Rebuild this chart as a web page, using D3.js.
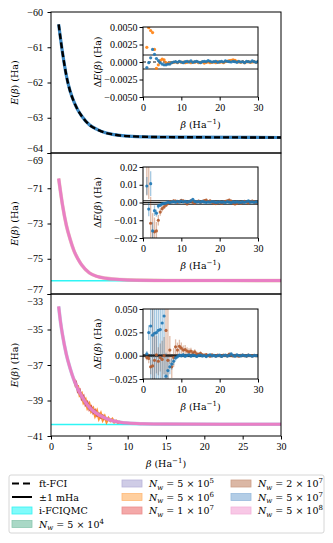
<!DOCTYPE html>
<html>
<head>
<meta charset="utf-8">
<script src="https://cdn.jsdelivr.net/npm/d3@7"></script>
<style>
body { margin: 0; background: #fff; }
svg text { font-family: "Liberation Serif", "DejaVu Serif", serif; fill: #000; }
svg text.lbl { font-family: "DejaVu Serif", "Liberation Serif", serif; }
</style>
</head>
<body>
<div id="chart"></div>
<script>
// ---- main panel curves (beta in Ha^-1, energies in Ha)
const betaCurve = [1, 1.5, 2, 2.5, 3, 3.5, 4, 5, 6, 7, 8, 10, 15, 30];
const energyTop = [-60.35, -61.15, -61.8, -62.25, -62.55, -62.78, -62.95, -63.2, -63.33, -63.42, -63.47, -63.52, -63.55, -63.56];
const energyMid = [-70.45, -71.95, -73.1, -73.9, -74.55, -75.0, -75.35, -75.8, -76.0, -76.1, -76.15, -76.2, -76.23, -76.24];
const betaCurveLow = [1, 1.25, 1.5, 2, 2.5, 3, 3.5, 4, 4.5, 5, 6, 7, 8, 9, 10, 12, 15, 30];
const energyLow = [-33.7, -34.6, -35.3, -36.4, -37.2, -37.85, -38.35, -38.75, -39.1, -39.38, -39.75, -39.98, -40.14, -40.22, -40.27, -40.31, -40.33, -40.34];
const iFciqmc = [null, -76.25, -40.35];

// noisy low-walker runs in the bottom panel
const betaNoisyOrange = [3, 3.25, 3.5, 3.75, 4, 4.25, 4.5, 4.75, 5, 5.25, 5.5, 5.75, 6, 6.25, 6.5, 6.75, 7, 7.25, 7.5, 7.75, 8, 8.25, 8.5, 8.75, 9];
const energyNoisyOrange = [-37.8, -38.2, -38.2, -38.7, -38.6, -39.1, -38.95, -39.4, -39.2, -39.6, -39.45, -39.85, -39.6, -40.0, -39.75, -40.1, -39.9, -40.2, -40.0, -40.15, -40.05, -40.22, -40.15, -40.25, -40.2];
const betaNoisyRed = [3, 3.25, 3.5, 3.75, 4, 4.25, 4.5, 4.75, 5, 5.25, 5.5, 5.75, 6, 6.25, 6.5, 6.75, 7];
const energyNoisyRed = [-38.0, -37.95, -38.5, -38.4, -38.9, -38.75, -39.25, -39.1, -39.5, -39.35, -39.7, -39.55, -39.85, -39.75, -39.95, -39.85, -40.05];

// ---- inset deviations (mHa), beta = 1, 1.5, ..., 30
const betaInset = d3.range(1, 30.01, 0.5);

const dev1Blue = [
  -0.8, -0.1, 0.6, 1.8, 1.1, 0.5, 0.2, -0.1, -0.3, -0.4,
  -0.4, -0.3, -0.3, -0.1, 0.0, 0.05, -0.05, 0.1, 0.0, -0.1,
  0.05, 0.1, 0.0, 0.15, -0.05, 0.05, 0.1, 0.0, -0.1, 0.05,
  0.1, 0.05, 0.2, 0.1, 0.0, 0.05, 0.1, -0.05, 0.05, 0.1,
  0.0, 0.15, 0.1, 0.05, 0.0, 0.1, 0.05, -0.05, 0.1, 0.0,
  0.05, -0.1, 0.1, 0.05, 0.0, 0.15, 0.05, -0.05, 0.1];
const dev1Orange = [
  2.1, 4.9, 4.5, 4.2, 1.8, -0.9, -0.4, 0.2, 0.4, 0.3,
  -0.1, -0.2, -0.15, -0.1, -0.05, 0.0, -0.1, 0.05, -0.05, 0.0,
  -0.1, -0.05, 0.05, -0.1, 0.0, -0.05, 0.05, -0.1, -0.05, 0.0,
  -0.15, -0.05, 0.0, -0.1, -0.05, 0.0, -0.1, 0.05, -0.05, 0.0,
  -0.1, 0.05, 0.1, 0.2, 0.25, 0.3, 0.25, 0.1, 0.0, -0.05,
  0.05, -0.1, 0.0, 0.05, -0.05, 0.0, 0.05, -0.05, 0.0];

const dev2Blue = [
  9.3, -3.7, 10.6, -16, -4.6, -6.0, -2.0, -1.5, -0.8, -0.5,
  -0.3, 0.2, 0.0, 0.3, 0.5, 0.2, 0.6, 0.3, 0.8, 0.4,
  0.6, 0.2, 0.5, 0.9, 1.8, 0.6, 0.3, 0.5, 0.2, 0.6,
  0.3, 0.1, 0.4, 0.2, 0.5, 0.3, 0.0, 0.2, 0.4, 0.1,
  0.3, 0.0, 0.5, 0.2, -0.1, 0.3, 0.1, 0.4, 0.2, 0.0,
  0.3, 0.1, 0.5, 0.9, 0.2, 0.4, 0.1, 0.3, 0.2];
const err2Blue = [
  5, 4, 7, 5, 3, 2, 1.5, 1, 0.8, 0.7,
  0.6, 0.6, 0.6, 0.5, 0.5, 0.5, 0.5, 0.5, 0.5, 0.5,
  0.5, 0.5, 0.4, 0.4, 0.4, 0.4, 0.4, 0.4, 0.4, 0.4,
  0.4, 0.4, 0.4, 0.4, 0.4, 0.4, 0.4, 0.4, 0.4, 0.4,
  0.4, 0.4, 0.4, 0.4, 0.4, 0.4, 0.4, 0.4, 0.4, 0.4,
  0.4, 0.4, 0.4, 0.4, 0.4, 0.4, 0.4, 0.4, 0.4];
const dev2Brown = [
  24, 22, -11.7, -21, -16.5, -16, -10, -5.4, -3.5, -2.5,
  -1.5, -0.5, 0.2, 0.5, 1.0, 0.8, 0.2, 0.6, 1.2, 0.9,
  0.3, -0.8, 0.4, 0.9, 0.2, -0.3, 0.5, 0.8, 0.1, 0.6,
  1.1, 1.3, 0.5, 0.9, 0.2, -0.4, -0.6, -0.2, 0.3, -0.5,
  0.2, 0.6, 1.0, 1.3, 0.8, -0.3, -0.8, -0.5, 0.2, -0.4,
  0.1, 0.6, 0.3, -0.2, 0.5, 0.8, 0.3, -0.1, 0.4];
const err2Brown = [
  20, 20, 15, 15, 8, 5, 3, 2, 1.5, 1.2,
  1.0, 1.0, 1.0, 0.9, 0.9, 0.9, 0.9, 0.8, 0.8, 0.8,
  0.8, 0.8, 0.8, 0.8, 0.8, 0.8, 0.8, 0.8, 0.8, 0.8,
  0.8, 0.8, 0.8, 0.8, 0.8, 0.8, 0.8, 0.8, 0.8, 0.8,
  0.8, 0.8, 0.8, 0.8, 0.8, 0.8, 0.8, 0.8, 0.8, 0.8,
  0.8, 0.8, 0.8, 0.8, 0.8, 0.8, 0.8, 0.8, 0.8];

const dev3Blue = [
  2.0, 24.7, 31.8, 22, 24, 24.7, 27, 28, 35, 42.5,
  -22, -16, -12, -9, -6, -2.5, -1.0, 0.5, 0.0, 0.8,
  -0.5, 0.3, 1.0, -0.4, 0.5, 0.2, -0.8, 0.3, 0.6, -0.3,
  0.2, -1.0, 0.4, 0.8, -0.2, 0.3, -0.6, 0.1, 0.5, -0.8,
  0.2, 0.6, -0.4, 0.3, 2.0, 0.4, -0.5, 0.9, 0.2, -0.3,
  0.6, 0.1, -0.4, 0.5, 0.2, -0.6, 0.3, 0.1, -0.2];
const err3Blue = [
  3, 8, 70, 70, 70, 70, 70, 70, 70, 70,
  25, 15, 8, 6, 4, 3, 2.5, 2, 2, 2,
  1.8, 1.8, 1.7, 1.7, 1.6, 1.6, 1.5, 1.5, 1.5, 1.5,
  1.5, 1.4, 1.4, 1.4, 1.4, 1.3, 1.3, 1.3, 1.3, 1.3,
  1.2, 1.2, 1.2, 1.2, 1.2, 1.2, 1.2, 1.2, 1.2, 1.2,
  1.2, 1.2, 1.2, 1.2, 1.2, 1.2, 1.2, 1.2, 1.2];
const dev3Brown = [
  -2, -3, -12, -11, -5, 1, -6, -2, -4, 0,
  27, -5, 6, -12, -2, 9.5, 6, 10, 8, 6,
  6.5, 5, 4, 5, 3, 4, 2, 1.5, 2.5, 1,
  0.5, 1.2, 0.3, -0.5, 0.8, 0.2, -0.3, 0.6, 0.1, -0.4,
  0.5, 0.2, -0.2, 1.8, 0.6, -0.3, 0.4, 0.0, -0.5, 0.3,
  0.7, 0.1, -0.4, 0.5, 0.2, -0.3, 0.4, 0.0, 0.3];
const err3Brown = [
  3, 5, 8, 70, 30, 20, 15, 15, 20, 20,
  70, 70, 15, 12, 10, 8, 8, 7, 6, 5,
  5, 4, 4, 3.5, 3, 3, 2.5, 2, 2, 1.8,
  1.6, 1.5, 1.5, 1.4, 1.4, 1.3, 1.3, 1.2, 1.2, 1.2,
  1.1, 1.1, 1.1, 1.1, 1.1, 1.1, 1.1, 1.1, 1.1, 1.1,
  1.1, 1.1, 1.1, 1.1, 1.1, 1.1, 1.1, 1.1, 1.1];

// ---- ticks
const mainYTicks = [[-64, -63, -62, -61, -60], [-77, -75, -73, -71, -69], [-41, -39, -37, -35, -33]];
const mainXTicks = [0, 5, 10, 15, 20, 25, 30];
const insetYTicks = [[-0.005, -0.0025, 0, 0.0025, 0.005], [-0.02, -0.01, 0, 0.01, 0.02], [-0.025, 0, 0.025, 0.05]];
const insetYFormats = [".4f", ".2f", ".3f"];
const insetXTicks = [0, 10, 20, 30];

// ---- legend
const walkerMantissa = ["5", "5", "5", "1", "2", "5", "5"];
const walkerExponent = ["4", "5", "6", "7", "7", "7", "8"];
const walkerFill = ["#a9d8c6", "#cfcce6", "#ffcf9f", "#f4a9a9", "#dbb7a5", "#b3cde6", "#f8c8e6"];
const walkerEdge = ["#8cc8b0", "#b9b5da", "#ffb877", "#ec8d8d", "#cc9f88", "#98bbdc", "#f3b2da"];

const width = 333, height = 543;
const svg = d3.select("#chart").append("svg")
  .attr("width", width).attr("height", height);

const x = d3.scaleLinear().domain([0, 30]).range([51, 281]);
const panels = [
  { top: 12, bottom: 153, domain: [-64, -60] },
  { top: 153, bottom: 294, domain: [-77, -69] },
  { top: 294, bottom: 436, domain: [-41, -33] }
];
const insetBoxes = [
  { top: 27, bottom: 97, domain: [-0.005, 0.005] },
  { top: 167, bottom: 238, domain: [-0.02, 0.02] },
  { top: 309, bottom: 379, domain: [-0.025, 0.05] }
];
const xi = d3.scaleLinear().domain([0, 30]).range([143, 258]);

const blue = "#1f77b4", orange = "#ff7f0e", brown = "#b25a2c", pink = "#e97fc4", cyan = "#2ff5f5";

function richText(t, parts) {
  let shift = 0;
  parts.forEach(p => {
    const ts = t.append("tspan").text(p.t);
    if (p.i) ts.attr("font-style", "italic");
    const target = p.sup ? -4 : p.sub ? 2.5 : 0;
    if (target !== shift) { ts.attr("dy", target - shift); shift = target; }
    if (p.sup || p.sub) ts.attr("font-size", "7px");
  });
}
const eLabel = [{ t: "E", i: true }, { t: "(" }, { t: "β", i: true }, { t: ") (Ha)" }];
const dLabel = [{ t: "Δ" }, { t: "E", i: true }, { t: "(" }, { t: "β", i: true }, { t: ") (Ha)" }];
const bLabel = [{ t: "β", i: true }, { t: " (Ha" }, { t: "−1", sup: true }, { t: ")" }];

const line = d3.line().curve(d3.curveMonotoneX);

panels.forEach((p, k) => {
  const y = d3.scaleLinear().domain(p.domain).range([p.bottom, p.top]);
  const g = svg.append("g");

  g.append("clipPath").attr("id", "clip" + k)
    .append("rect").attr("x", x(0)).attr("y", p.top).attr("width", x(30) - x(0)).attr("height", p.bottom - p.top);
  const plot = g.append("g").attr("clip-path", "url(#clip" + k + ")");

  if (iFciqmc[k] !== null) {
    plot.append("line")
      .attr("x1", x(0)).attr("x2", x(30))
      .attr("y1", y(iFciqmc[k])).attr("y2", y(iFciqmc[k]))
      .attr("stroke", cyan).attr("stroke-width", 1.6);
  }

  if (k === 0) {
    const pts = betaCurve.map((b, i) => [x(b), y(energyTop[i])]);
    plot.append("path").attr("d", line(pts))
      .attr("fill", "none").attr("stroke", "#3b87c2").attr("stroke-width", 3.2);
    plot.append("path").attr("d", line(pts))
      .attr("fill", "none").attr("stroke", "#000").attr("stroke-width", 2.4)
      .attr("stroke-dasharray", "6,3");
  } else if (k === 1) {
    const pts = betaCurve.map((b, i) => [x(b), y(energyMid[i])]);
    plot.append("path").attr("d", line(pts))
      .attr("fill", "none").attr("stroke", "#d9a890").attr("stroke-width", 3.6).attr("opacity", 0.6);
    plot.append("path").attr("d", line(pts))
      .attr("fill", "none").attr("stroke", pink).attr("stroke-width", 3);
  } else {
    plot.append("path")
      .attr("d", d3.line()(betaNoisyOrange.map((b, i) => [x(b), y(energyNoisyOrange[i])])))
      .attr("fill", "none").attr("stroke", orange).attr("stroke-width", 2.6).attr("opacity", 0.85);
    plot.append("path")
      .attr("d", d3.line()(betaNoisyRed.map((b, i) => [x(b), y(energyNoisyRed[i])])))
      .attr("fill", "none").attr("stroke", "#d62728").attr("stroke-width", 2.2).attr("opacity", 0.75);
    const pts = betaCurveLow.map((b, i) => [x(b), y(energyLow[i])]);
    plot.append("path").attr("d", line(pts))
      .attr("fill", "none").attr("stroke", "#7fa8d8").attr("stroke-width", 3.6).attr("opacity", 0.5);
    plot.append("path").attr("d", line(pts))
      .attr("fill", "none").attr("stroke", pink).attr("stroke-width", 3);
  }

  // frame
  g.append("rect").attr("x", x(0)).attr("y", p.top)
    .attr("width", x(30) - x(0)).attr("height", p.bottom - p.top)
    .attr("fill", "none").attr("stroke", "#000").attr("stroke-width", 1);

  const ya = g.append("g").attr("transform", `translate(${x(0)},0)`)
    .call(d3.axisLeft(y).tickValues(mainYTicks[k]).tickFormat(d3.format("d"))
      .tickSize(3.5).tickPadding(4.5).tickSizeOuter(0));
  ya.select(".domain").remove();
  ya.selectAll("text").attr("font-size", "10px").attr("font-family", null);
  // keep the shared-edge labels apart
  ya.selectAll(".tick text").attr("dy", (d) =>
    d === p.domain[0] && k < 2 ? "-0.15em" : d === p.domain[1] && k > 0 ? "1.02em" : "0.32em");

  if (k === 2) {
    const xa = g.append("g").attr("transform", `translate(0,${p.bottom})`)
      .call(d3.axisBottom(x).tickValues(mainXTicks).tickSize(3.5).tickPadding(3.5).tickSizeOuter(0));
    xa.select(".domain").remove();
    xa.selectAll("text").attr("font-size", "10px").attr("font-family", null);
    const xl = g.append("text").attr("class", "lbl").attr("x", 166).attr("y", 467)
      .attr("text-anchor", "middle").attr("font-size", "9.5px");
    richText(xl, bLabel);
  }

  const yl = g.append("text").attr("class", "lbl")
    .attr("transform", `translate(17.5,${(p.top + p.bottom) / 2}) rotate(-90)`)
    .attr("text-anchor", "middle").attr("font-size", "9.5px");
  richText(yl, eLabel);

  drawInset(k);
});

function drawInset(k) {
  const b = insetBoxes[k];
  const y = d3.scaleLinear().domain(b.domain).range([b.bottom, b.top]);
  const g = svg.append("g");
  g.append("rect").attr("x", xi(0)).attr("y", b.top)
    .attr("width", xi(30) - xi(0)).attr("height", b.bottom - b.top).attr("fill", "#fff");
  g.append("clipPath").attr("id", "iclip" + k)
    .append("rect").attr("x", xi(0)).attr("y", b.top).attr("width", xi(30) - xi(0)).attr("height", b.bottom - b.top);
  const plot = g.append("g").attr("clip-path", "url(#iclip" + k + ")");

  const series = [
    [[dev1Orange, null, orange], [dev1Blue, null, blue]],
    [[dev2Brown, err2Brown, brown], [dev2Blue, err2Blue, blue]],
    [[dev3Brown, err3Brown, brown], [dev3Blue, err3Blue, blue]]
  ][k];

  // reference lines: +-1 mHa and zero
  [-0.001, 0.001].forEach(v => {
    plot.append("line").attr("x1", xi(0)).attr("x2", xi(30))
      .attr("y1", y(v)).attr("y2", y(v))
      .attr("stroke", "#000").attr("stroke-width", 0.9);
  });
  if (k > 0) {
    plot.append("rect").attr("x", xi(0)).attr("y", y(0.001))
      .attr("width", xi(30) - xi(0)).attr("height", y(-0.001) - y(0.001))
      .attr("fill", "#999").attr("opacity", 0.4);
  }

  series.forEach(([vals, errs, col]) => {
    if (errs) {
      plot.selectAll(null).data(betaInset).enter().append("line")
        .attr("x1", d => xi(d)).attr("x2", d => xi(d))
        .attr("y1", (d, i) => y((vals[i] - errs[i]) / 1000))
        .attr("y2", (d, i) => y((vals[i] + errs[i]) / 1000))
        .attr("stroke", col).attr("stroke-width", 1.3).attr("opacity", 0.4);
    }
  });
  plot.append("line").attr("x1", xi(0)).attr("x2", xi(30))
    .attr("y1", y(0)).attr("y2", y(0))
    .attr("stroke", "#000").attr("stroke-width", 0.9)
    .attr("stroke-dasharray", k === 0 ? "3,2" : null);
  series.forEach(([vals, errs, col]) => {
    plot.selectAll(null).data(betaInset).enter().append("circle")
      .attr("cx", d => xi(d))
      .attr("cy", (d, i) => y(vals[i] / 1000))
      .attr("r", 1.6).attr("fill", col).attr("opacity", 0.9);
  });

  g.append("rect").attr("x", xi(0)).attr("y", b.top)
    .attr("width", xi(30) - xi(0)).attr("height", b.bottom - b.top)
    .attr("fill", "none").attr("stroke", "#000").attr("stroke-width", 1);

  const ya = g.append("g").attr("transform", `translate(${xi(0)},0)`)
    .call(d3.axisLeft(y).tickValues(insetYTicks[k]).tickFormat(d3.format(insetYFormats[k]))
      .tickSize(3.5).tickPadding(2).tickSizeOuter(0));
  ya.select(".domain").remove();
  ya.selectAll("text").attr("font-size", "10px").attr("font-family", null);

  const xa = g.append("g").attr("transform", `translate(0,${b.bottom})`)
    .call(d3.axisBottom(xi).tickValues(insetXTicks).tickSize(3.5).tickPadding(3.5).tickSizeOuter(0));
  xa.select(".domain").remove();
  xa.selectAll("text").attr("font-size", "10px").attr("font-family", null);

  const xl = g.append("text").attr("class", "lbl").attr("x", xi(15)).attr("y", b.bottom + 31)
    .attr("text-anchor", "middle").attr("font-size", "9.5px");
  richText(xl, bLabel);

  const yl = g.append("text").attr("class", "lbl")
    .attr("transform", `translate(100.5,${(b.top + b.bottom) / 2}) rotate(-90)`)
    .attr("text-anchor", "middle").attr("font-size", "9.5px");
  richText(yl, dLabel);
}

// ---- legend
const legend = svg.append("g");
legend.append("rect").attr("x", 9).attr("y", 475).attr("width", 315).attr("height", 58)
  .attr("rx", 2).attr("fill", "#fff").attr("stroke", "#ccc").attr("stroke-width", 0.8);

const legendItems = [
  { kind: "dash", parts: [{ t: "ft-FCI" }] },
  { kind: "solid", parts: [{ t: "±1 mHa" }] },
  { kind: "patch", fill: "#80fbfb", edge: "#33f3f3", parts: [{ t: "i-FCIQMC" }] }
].concat(walkerMantissa.map((m, i) => ({
  kind: "patch", fill: walkerFill[i], edge: walkerEdge[i],
  parts: [{ t: "N", i: true }, { t: "w", i: true, sub: true }, { t: " = " + m + " × 10" }, { t: walkerExponent[i], sup: true }]
})));

const colX = [11, 121, 230];
const rowY = [483.5, 497, 510.5, 524];
const colOf = [0, 0, 0, 0, 1, 1, 1, 2, 2, 2];
const rowOf = [0, 1, 2, 3, 0, 1, 2, 0, 1, 2];

legendItems.forEach((it, i) => {
  const cx = colX[colOf[i]], cy = rowY[rowOf[i]];
  const g = legend.append("g");
  if (it.kind === "dash") {
    g.append("line").attr("x1", cx + 1).attr("x2", cx + 21).attr("y1", cy).attr("y2", cy)
      .attr("stroke", "#000").attr("stroke-width", 2).attr("stroke-dasharray", "7,4");
  } else if (it.kind === "solid") {
    g.append("line").attr("x1", cx + 1).attr("x2", cx + 21).attr("y1", cy).attr("y2", cy)
      .attr("stroke", "#000").attr("stroke-width", 2);
  } else {
    g.append("rect").attr("x", cx + 1).attr("y", cy - 3.5).attr("width", 20).attr("height", 7)
      .attr("fill", it.fill).attr("stroke", it.edge).attr("stroke-width", 0.8);
  }
  const t = g.append("text").attr("class", "lbl").attr("x", cx + 28).attr("y", cy + 3.5).attr("font-size", "9.5px");
  richText(t, it.parts);
});
</script>
</body>
</html>
